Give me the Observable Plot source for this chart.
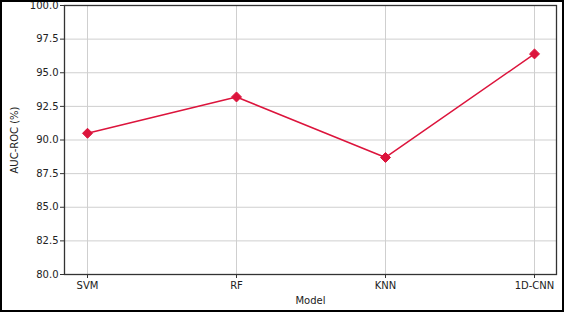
<!DOCTYPE html>
<html><head><meta charset="utf-8">
<script src="https://cdn.jsdelivr.net/npm/d3@7"></script>
<script src="https://cdn.jsdelivr.net/npm/@observablehq/plot@0.6"></script>
<style>
html,body{margin:0;padding:0;background:#fff;}
#wrap{position:relative;width:564px;height:312px;overflow:hidden;}
#border{position:absolute;left:0;top:0;width:564px;height:312px;box-sizing:border-box;border:2px solid #000;pointer-events:none;}
svg{display:block;font-family:"DejaVu Sans",sans-serif;}
</style></head>
<body><div id="wrap"><div id="border"></div></div>
<script>
const models = ["SVM", "RF", "KNN", "1D-CNN"];
const aucRoc = [90.5, 93.2, 88.7, 96.4];
const yTicks = [80, 82.5, 85, 87.5, 90, 92.5, 95, 97.5, 100];

const data = models.map((m, i) => ({model: m, auc: aucRoc[i]}));

const chart = Plot.plot({
  width: 564,
  height: 312,
  marginLeft: 64,
  marginRight: 8,
  marginTop: 5,
  marginBottom: 38,
  style: {fontFamily: "DejaVu Sans, sans-serif", fontSize: "10px", color: "#222", background: "transparent"},
  x: {type: "point", domain: models, padding: 0.148},
  y: {domain: [80, 100]},
  marks: [
    Plot.gridX(models, {stroke: "#cfcfcf", strokeOpacity: 1, strokeWidth: 1}),
    Plot.gridY(yTicks, {stroke: "#cfcfcf", strokeOpacity: 1, strokeWidth: 1}),
    Plot.axisX(models, {tickSize: 4, tickPadding: 3, fontSize: 10, label: "Model", labelAnchor: "center", labelArrow: "none", labelOffset: 29, stroke: "#333"}),
    Plot.axisY(yTicks, {tickSize: 4, tickPadding: 2, fontSize: 10, tickFormat: d3.format(".1f"), label: "AUC-ROC (%)", labelAnchor: "center", labelArrow: "none", labelOffset: 54, stroke: "#333"}),
    Plot.frame({stroke: "#333", strokeWidth: 1.3}),
    Plot.line(data, {x: "model", y: "auc", stroke: "#DC143C", strokeWidth: 1.5}),
    Plot.dot(data, {x: "model", y: "auc", symbol: "diamond2", r: 4.5, fill: "#DC143C", stroke: "#DC143C", strokeWidth: 1})
  ]
});
document.getElementById("wrap").prepend(chart);
</script>
</body></html>
